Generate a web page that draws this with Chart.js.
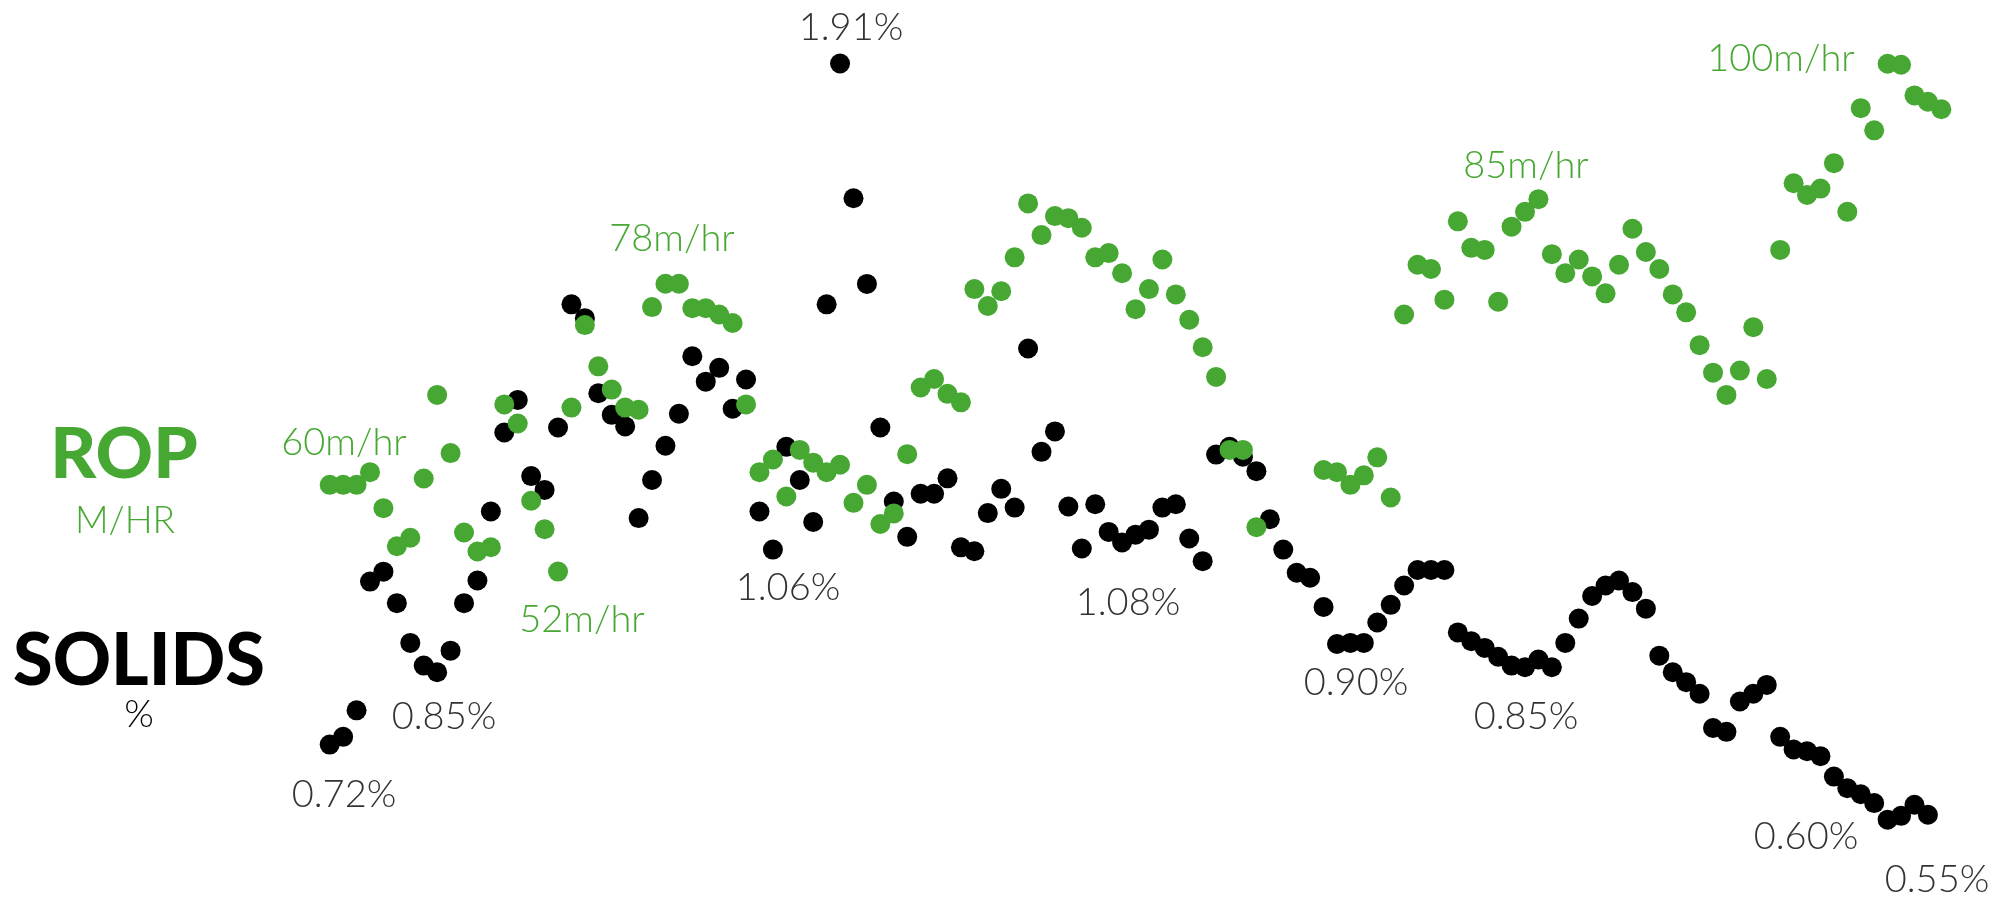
<!DOCTYPE html>
<html>
<head>
<meta charset="utf-8">
<script src="https://cdn.jsdelivr.net/npm/chart.js@4"></script>
<style>
  html, body { margin: 0; padding: 0; background: #fff; }
  #wrap { width: 1996px; height: 897px; }
</style>
</head>
<body>
<div id="wrap"><canvas id="ropSolidsChart" width="1996" height="897"></canvas></div>
<script>
// sample index along the section (shared by both series)
const solidsPct = [
  0.677, 0.691, 0.739, 0.972, 0.990, 0.933, 0.861, 0.820, 0.808, 0.847,
  0.933, 0.974, 1.099, 1.242, 1.301, 1.163, 1.138, 1.251, 1.474, 1.449,
  1.313, 1.274, 1.253, 1.087, 1.156, 1.218, 1.276, 1.380, 1.334, 1.359,
  1.285, 1.338, 1.099, 1.030, 1.216, 1.156, 1.080, 1.474, 1.910, 1.666,
  1.511, 1.251, 1.117, 1.053, 1.131, 1.131, 1.159, 1.034, 1.027, 1.096,
  1.140, 1.106, 1.394, 1.207, 1.244, 1.108, 1.032, 1.112, 1.062, 1.043,
  1.057, 1.066, 1.106, 1.112, 1.050, 1.009, 1.202, 1.216, 1.198, 1.172,
  1.085, 1.030, 0.988, 0.979, 0.926, 0.859, 0.861, 0.861, 0.898, 0.930,
  0.965, 0.993, 0.993, 0.993, 0.880, 0.864, 0.852, 0.836, 0.820, 0.817,
  0.831, 0.817, 0.861, 0.905, 0.946, 0.965, 0.974, 0.953, 0.923, 0.838,
  0.808, 0.790, 0.769, 0.707, 0.700, 0.755, 0.769, 0.785, 0.691, 0.668,
  0.665, 0.656, 0.619, 0.598, 0.587, 0.571, 0.541, 0.548, 0.568, 0.550
];

const ropMhr = [
  60.2, 60.2, 60.2, 61.4, 58.0, 54.4, 55.2, 60.8, 68.7, 63.2,
  55.7, 53.9, 54.3, 67.8, 66.0, 58.7, 56.0, 52.0, 67.5, 75.3,
  71.4, 69.2, 67.5, 67.3, 77.0, 79.2, 79.2, 76.9, 76.9, 76.3,
  75.5, 67.8, 61.4, 62.6, 59.1, 63.5, 62.3, 61.4, 62.1, 58.5,
  60.2, 56.5, 57.5, 63.1, 69.4, 70.2, 68.8, 68.0, 78.7, 77.1,
  78.5, 81.7, 86.8, 83.8, 85.6, 85.4, 84.5, 81.7, 82.1, 80.2,
  76.8, 78.7, 81.5, 78.2, 75.8, 73.2, 70.4, 63.5, 63.5, 56.2,
  null, null, null, null, 61.6, 61.4, 60.2, 61.1, 62.8, 59.0,
  76.3, 81.0, 80.6, 77.7, 85.1, 82.6, 82.4, 77.5, 84.6, 86.0,
  87.2, 82.0, 80.2, 81.5, 79.9, 78.3, 81.0, 84.4, 82.2, 80.6,
  78.2, 76.5, 73.4, 70.8, 68.7, 71.0, 75.1, 70.2, 82.4, 88.7,
  87.6, 88.2, 90.6, 86.0, 95.8, 93.7, 100.0, 99.9, 97.0, 96.4,
  95.7
];

// callouts: text and which series it belongs to
const solidsCallouts = ['1.91%', '0.72%', '0.85%', '1.06%', '1.08%', '0.90%', '0.85%', '0.60%', '0.55%'];
const ropCallouts = ['60m/hr', '52m/hr', '78m/hr', '85m/hr', '100m/hr'];

const GREEN = '#46a832';
const TEXT = '#333333';

const toPoints = (vals) => vals.map((v, i) => ({ x: i, y: v }));

// where each callout sits on the page
const solidsCalloutPos = [
  [851, 28], [344, 795], [444, 717], [788, 588], [1128, 603],
  [1356, 683], [1526, 717], [1806, 837], [1937, 880]
];
const ropCalloutPos = [[344, 443], [582, 620], [672, 239], [1526, 166], [1781, 59]];

const labelsPlugin = {
    id: 'labels',
    afterDatasetsDraw(chart) {
        const ctx = chart.ctx;
        ctx.save();
        ctx.textAlign = 'center';
        ctx.textBaseline = 'middle';

        // side titles
        ctx.fillStyle = GREEN;
        ctx.font = '900 71px Lato, "DejaVu Sans", sans-serif';
        ctx.fillText('ROP', 124, 455);
        ctx.font = '300 37px Lato, "DejaVu Sans", sans-serif';
        ctx.fillText('M/HR', 125, 521);

        ctx.fillStyle = '#000';
        ctx.font = '900 72px Lato, "DejaVu Sans", sans-serif';
        ctx.fillText('SOLIDS', 139, 662);
        ctx.font = '300 38px Lato, "DejaVu Sans", sans-serif';
        ctx.fillText('%', 139, 715);

        ctx.font = '300 38px Lato, "DejaVu Sans", sans-serif';
        ctx.fillStyle = TEXT;
        solidsCallouts.forEach((t, i) => ctx.fillText(t, solidsCalloutPos[i][0], solidsCalloutPos[i][1]));
        ctx.fillStyle = GREEN;
        ropCallouts.forEach((t, i) => ctx.fillText(t, ropCalloutPos[i][0], ropCalloutPos[i][1]));
        ctx.restore();
    }
};

const ctx = document.getElementById('ropSolidsChart').getContext('2d');
new Chart(ctx, {
    type: 'scatter',
    data: {
        datasets: [
            {
                label: 'ROP (m/hr)',
                data: toPoints(ropMhr),
                yAxisID: 'yRop',
                backgroundColor: GREEN,
                borderColor: GREEN,
                pointRadius: 10,
                pointBorderWidth: 0,
                order: 0
            },
            {
                label: 'Solids (%)',
                data: toPoints(solidsPct),
                yAxisID: 'ySolids',
                backgroundColor: '#000',
                borderColor: '#000',
                pointRadius: 10,
                pointBorderWidth: 0,
                order: 1
            }
        ]
    },
    options: {
        responsive: false,
        animation: false,
        clip: false,
        layout: { padding: 0, autoPadding: false },
        plugins: {
            legend: { display: false },
            tooltip: { enabled: false }
        },
        scales: {
            x: { type: 'linear', min: -24.55, max: 124.07, display: false },
            ySolids: { type: 'linear', min: 0.401, max: 2.025, display: false },
            yRop: { type: 'linear', min: 21.25, max: 106.02, display: false }
        }
    },
    plugins: [labelsPlugin]
});
</script>
</body>
</html>
